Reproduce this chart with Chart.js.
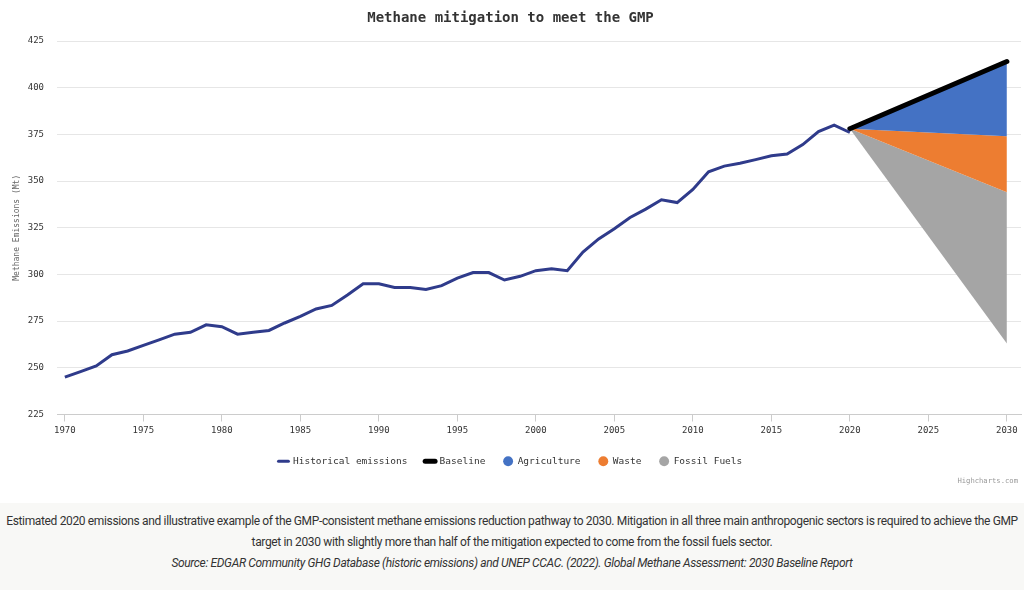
<!DOCTYPE html>
<html>
<head>
<meta charset="utf-8">
<script src="https://cdn.jsdelivr.net/npm/chart.js@4.4.1/dist/chart.umd.min.js"></script>
<style>
  body { margin: 0; background: #fff; width: 1024px; height: 590px; overflow: hidden; }
  #wrap { position: absolute; left: 0; top: 0; width: 1024px; height: 480px; }
  #credit { position: absolute; right: 6px; top: 476px; font: 7.2px "DejaVu Sans Mono", monospace; color: #999; }
  #caption { position: absolute; left: 0; top: 503px; width: 1024px; height: 87px; background: #f8f8f6;
    text-align: center; font-family: Roboto, "Liberation Sans", sans-serif; font-size: 12px; color: #333;
    letter-spacing: -0.35px; white-space: nowrap; }
  #caption p { margin: 0; line-height: 21px; }
  #caption .src { font-style: italic; }
</style>
</head>
<body>
<div id="wrap"><canvas id="methaneChart"></canvas></div>
<div id="credit">Highcharts.com</div>
<div id="caption">
  <p style="margin-top:8px">Estimated 2020 emissions and illustrative example of the GMP-consistent methane emissions reduction pathway to 2030. Mitigation in all three main anthropogenic sectors is required to achieve the GMP</p>
  <p>target in 2030 with slightly more than half of the mitigation expected to come from the fossil fuels sector.</p>
  <p class="src">Source: EDGAR Community GHG Database (historic emissions) and UNEP CCAC. (2022). Global Methane Assessment: 2030 Baseline Report</p>
</div>
<script>
// Historical emissions (Mt)
const years = [1970, 1971, 1972, 1973, 1974, 1975, 1976, 1977, 1978, 1979,
    1980, 1981, 1982, 1983, 1984, 1985, 1986, 1987, 1988, 1989,
    1990, 1991, 1992, 1993, 1994, 1995, 1996, 1997, 1998, 1999,
    2000, 2001, 2002, 2003, 2004, 2005, 2006, 2007, 2008, 2009,
    2010, 2011, 2012, 2013, 2014, 2015, 2016, 2017, 2018, 2019, 2020];
const historical = [245, 248, 251, 257, 259, 262, 265, 268, 269, 273,
    272, 268, 269, 270, 274, 277.5, 281.5, 283.4, 289, 295,
    295, 293, 293, 292, 294, 298, 301, 301, 297, 299,
    302, 303, 302, 312, 319, 324.5, 330.5, 335, 340, 338.5,
    345.5, 355, 358, 359.5, 361.5, 363.5, 364.5, 369.5, 376.5, 380, 376];

// Pathway 2020 -> 2030
const pathYears = [2020, 2030];
const baseline = [378, 414];
const afterAgriculture = [378, 374];
const afterWaste = [378, 344];
const afterFossil = [378, 263];

const xTicks = [1970, 1975, 1980, 1985, 1990, 1995, 2000, 2005, 2010, 2015, 2020, 2025, 2030];

const toPoints = (xs, ys) => xs.map((x, i) => ({ x: x, y: ys[i] }));
const mono = "'DejaVu Sans Mono', monospace";

const ctx = document.getElementById("methaneChart");

new Chart(ctx, {
    type: "line",
    data: {
        datasets: [{
            label: "Historical emissions",
            data: toPoints(years, historical),
            borderColor: "#2f3b8b",
            borderWidth: 3,
            pointRadius: 0,
            legendStyle: "line", legendColor: "#2f3b8b", legendWidth: 3
        }, {
            label: "Baseline",
            data: toPoints(pathYears, baseline),
            borderColor: "#000",
            borderWidth: 5,
            borderCapStyle: "round",
            pointRadius: 0,
            legendStyle: "line", legendColor: "#000", legendWidth: 5
        }, {
            label: "Agriculture",
            data: toPoints(pathYears, afterAgriculture),
            borderColor: "rgba(0,0,0,0)",
            backgroundColor: "#4472c4",
            fill: 1,
            pointRadius: 0,
            legendStyle: "circle", legendColor: "#4472c4", legendWidth: 0
        }, {
            label: "Waste",
            data: toPoints(pathYears, afterWaste),
            borderColor: "rgba(0,0,0,0)",
            backgroundColor: "#ed7d31",
            fill: "-1",
            pointRadius: 0,
            legendStyle: "circle", legendColor: "#ed7d31", legendWidth: 0
        }, {
            label: "Fossil Fuels",
            data: toPoints(pathYears, afterFossil),
            borderColor: "rgba(0,0,0,0)",
            backgroundColor: "#a5a5a5",
            fill: "-1",
            pointRadius: 0,
            legendStyle: "circle", legendColor: "#a5a5a5", legendWidth: 0
        }]
    },
    options: {
        responsive: true,
        maintainAspectRatio: false,
        animation: false,
        layout: { padding: { left: 0, right: 3, top: 0, bottom: 4 } },
        plugins: {
            title: {
                display: true,
                text: "Methane mitigation to meet the GMP",
                color: "#333",
                font: { family: mono, size: 14, weight: "bold", lineHeight: 1.2 },
                padding: { top: 10, bottom: 14.2 }
            },
            legend: {
                position: "bottom",
                labels: {
                    usePointStyle: true,
                    boxWidth: 10,
                    boxHeight: 7,
                    padding: 18,
                    color: "#333",
                    font: { family: mono, size: 9.5 },
                    generateLabels: (chart) => chart.data.datasets.map((ds, i) => ({
                        text: ds.label,
                        datasetIndex: i,
                        pointStyle: ds.legendStyle,
                        fillStyle: ds.legendColor,
                        strokeStyle: ds.legendColor,
                        lineWidth: ds.legendWidth,
                        lineCap: "round",
                        fontColor: "#333",
                        hidden: false
                    }))
                }
            },
            tooltip: { enabled: false }
        },
        scales: {
            x: {
                type: "linear",
                min: 1969.5,
                max: 2030.9,
                afterBuildTicks: (scale) => { scale.ticks = xTicks.map(v => ({ value: v })); },
                afterFit: (scale) => { scale.height = 24; },
                ticks: {
                    color: "#333",
                    font: { family: mono, size: 9 },
                    padding: 4,
                    maxRotation: 0,
                    autoSkip: false,
                    callback: (v) => String(v)
                },
                grid: {
                    drawOnChartArea: false,
                    drawTicks: true,
                    tickLength: 7,
                    color: "#ccc"
                },
                border: { display: true, color: "#ccc", width: 1 }
            },
            y: {
                min: 225,
                max: 425,
                afterFit: (scale) => { scale.width = 57; },
                ticks: {
                    stepSize: 25,
                    color: "#333",
                    font: { family: mono, size: 9 },
                    padding: 13
                },
                grid: { color: "#e6e6e6", drawTicks: false },
                border: { display: false },
                title: {
                    display: true,
                    text: "Methane Emissions (Mt)",
                    color: "#666",
                    font: { family: mono, size: 8 },
                    padding: { top: 12, bottom: 0 }
                }
            }
        }
    }
});
</script>
</body>
</html>
